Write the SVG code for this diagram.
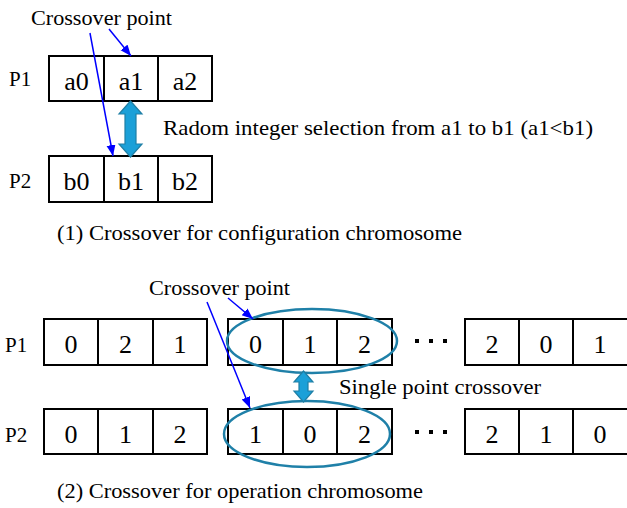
<svg xmlns="http://www.w3.org/2000/svg" width="627" height="508" viewBox="0 0 627 508">
<defs>
<style>
.cell{fill:#fff;stroke:#000;stroke-width:2}
.t{font-family:"Liberation Serif","Times New Roman",serif;fill:#000}
.ct{font-size:26px;text-anchor:middle}
.lb{font-size:21px}
.tx{font-size:22px}
.ptr{stroke:#0000ff;stroke-width:1.5;fill:none;marker-end:url(#ah)}
.dbl{fill:#1ba0d8;stroke:#1f7fa5;stroke-width:1.2}
.ell{fill:none;stroke:#1f80a8;stroke-width:2.5}
.dot{fill:#000}
</style>
<marker id="ah" markerUnits="userSpaceOnUse" markerWidth="12" markerHeight="10" refX="11" refY="4.5" orient="auto">
<path d="M0,0 L11,4.5 L0,9 Z" fill="#0000ff"/>
</marker>
</defs>

<g id="top-section">
<g id="p1-top">
<text class="t lb" x="9" y="86">P1</text>
<rect class="cell" x="49" y="56" width="55" height="45"/>
<rect class="cell" x="104" y="56" width="54" height="45"/>
<rect class="cell" x="158" y="56" width="54" height="45"/>
<text class="t ct" x="76.5" y="90">a0</text>
<text class="t ct" x="131" y="90">a1</text>
<text class="t ct" x="185" y="90">a2</text>
</g>
<g id="p2-top">
<text class="t lb" x="9" y="188">P2</text>
<rect class="cell" x="49" y="156" width="55" height="46"/>
<rect class="cell" x="104" y="156" width="54" height="46"/>
<rect class="cell" x="158" y="156" width="54" height="46"/>
<text class="t ct" x="76.5" y="190">b0</text>
<text class="t ct" x="131" y="190">b1</text>
<text class="t ct" x="185" y="190">b2</text>
</g>
<g id="labels-top">
<text class="t tx" x="31" y="25" textLength="141" lengthAdjust="spacingAndGlyphs">Crossover point</text>
<text class="t tx" x="163" y="135" textLength="430" lengthAdjust="spacingAndGlyphs">Radom integer  selection  from a1 to b1 (a1&lt;b1)</text>
<text class="t tx" x="57" y="240" textLength="405" lengthAdjust="spacingAndGlyphs">(1) Crossover for configuration  chromosome</text>
</g>
</g>

<g id="bottom-section">
<g id="p1-bottom">
<text class="t lb" x="5" y="352">P1</text>
<rect class="cell" x="44" y="319" width="54" height="46"/>
<rect class="cell" x="98" y="319" width="55" height="46"/>
<rect class="cell" x="153" y="319" width="54" height="46"/>
<rect class="cell" x="228" y="319" width="55" height="46"/>
<rect class="cell" x="283" y="319" width="54" height="46"/>
<rect class="cell" x="337" y="319" width="55" height="46"/>
<rect class="cell" x="465" y="319" width="54" height="46"/>
<rect class="cell" x="519" y="319" width="54" height="46"/>
<rect class="cell" x="573" y="319" width="55" height="46"/>
<text class="t ct" x="71" y="353">0</text>
<text class="t ct" x="125.5" y="353">2</text>
<text class="t ct" x="180" y="353">1</text>
<text class="t ct" x="255.5" y="353">0</text>
<text class="t ct" x="310" y="353">1</text>
<text class="t ct" x="364.5" y="353">2</text>
<text class="t ct" x="492" y="353">2</text>
<text class="t ct" x="546" y="353">0</text>
<text class="t ct" x="600" y="353">1</text>
<rect class="dot" x="415" y="339" width="4" height="4"/>
<rect class="dot" x="429" y="339" width="4" height="4"/>
<rect class="dot" x="443" y="339" width="4" height="4"/>
</g>
<g id="p2-bottom">
<text class="t lb" x="5" y="442">P2</text>
<rect class="cell" x="44" y="409" width="54" height="45"/>
<rect class="cell" x="98" y="409" width="55" height="45"/>
<rect class="cell" x="153" y="409" width="54" height="45"/>
<rect class="cell" x="228" y="409" width="55" height="45"/>
<rect class="cell" x="283" y="409" width="54" height="45"/>
<rect class="cell" x="337" y="409" width="55" height="45"/>
<rect class="cell" x="465" y="409" width="54" height="45"/>
<rect class="cell" x="519" y="409" width="54" height="45"/>
<rect class="cell" x="573" y="409" width="55" height="45"/>
<text class="t ct" x="71" y="443">0</text>
<text class="t ct" x="125.5" y="443">1</text>
<text class="t ct" x="180" y="443">2</text>
<text class="t ct" x="255.5" y="443">1</text>
<text class="t ct" x="310" y="443">0</text>
<text class="t ct" x="364.5" y="443">2</text>
<text class="t ct" x="492" y="443">2</text>
<text class="t ct" x="546" y="443">1</text>
<text class="t ct" x="600" y="443">0</text>
<rect class="dot" x="415" y="430" width="4" height="4"/>
<rect class="dot" x="429" y="430" width="4" height="4"/>
<rect class="dot" x="443" y="430" width="4" height="4"/>
</g>
<g id="segments">
<ellipse class="ell" cx="312" cy="341" rx="85" ry="32"/>
<ellipse class="ell" cx="307" cy="434" rx="83" ry="33"/>
</g>
<g id="labels-bottom">
<text class="t tx" x="149" y="295" textLength="141" lengthAdjust="spacingAndGlyphs">Crossover point</text>
<text class="t tx" x="339" y="394" textLength="202" lengthAdjust="spacingAndGlyphs">Single  point  crossover</text>
<text class="t tx" x="57" y="498" textLength="366" lengthAdjust="spacingAndGlyphs">(2) Crossover for operation  chromosome</text>
</g>
</g>

<g id="connectors">
<line class="ptr" x1="90" y1="33" x2="113" y2="156"/>
<line class="ptr" x1="109" y1="29" x2="131" y2="56"/>
<path class="dbl" d="M130.5,101 L142,114 L136,114 L136,144 L142,144 L130.5,157 L119,144 L125,144 L125,114 L119,114 Z"/>
<line class="ptr" x1="207" y1="302" x2="250" y2="408"/>
<line class="ptr" x1="228" y1="298" x2="253" y2="319"/>
<path class="dbl" d="M303.5,371 L313,382 L308,382 L308,391 L313,391 L303.5,402 L294,391 L299,391 L299,382 L294,382 Z"/>
</g>
</svg>
